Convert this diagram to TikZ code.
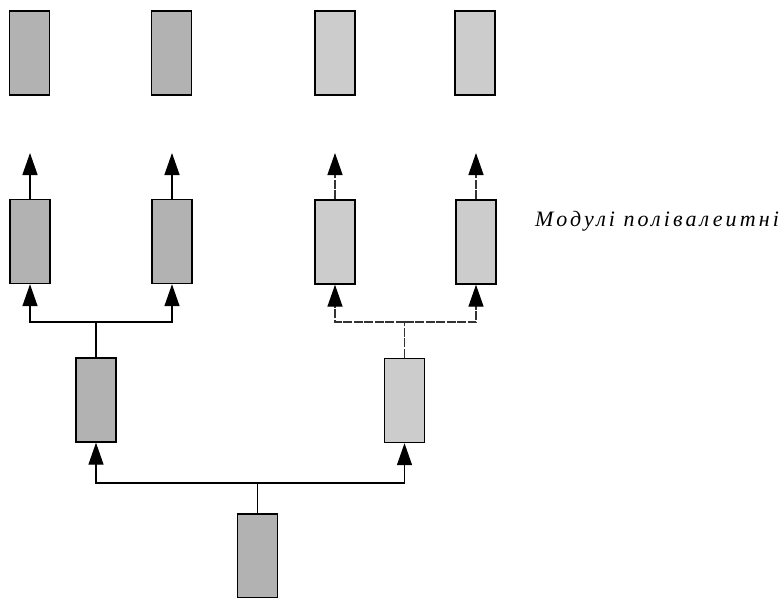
\documentclass[tikz,border=0pt]{standalone}
\usepackage{fontspec}
\setmainfont{Liberation Serif}
\newfontfamily\lblfont[LetterSpace=14]{Liberation Serif}
\usetikzlibrary{arrows.meta}
\tikzset{
  modbox/.style={draw=black, line width=1.4pt, rectangle, inner sep=0pt,
    minimum width=40pt, minimum height=84pt},
  dark/.style={modbox, fill=black!30},
  light/.style={modbox, fill=black!20},
  conn/.style={line width=1.4pt, black},
  dconn/.style={line width=1.4pt, black!80, dash pattern=on 9pt off 1.5pt},
  tip/.style={-{Triangle[length=22pt,width=15pt,color=black,fill=black]}},
}
\begin{document}
\begin{tikzpicture}[x=1pt,y=-1pt]
\useasboundingbox (0,0) rectangle (779,597);
% top row
\node[dark]  (a1) at (29.5,53) {};
\node[dark]  (a2) at (171.5,53) {};
\node[light] (a3) at (335,53) {};
\node[light] (a4) at (475,53) {};
% second row
\node[dark]  (b1) at (30,241.5) {};
\node[dark]  (b2) at (172,241.5) {};
\node[light] (b3) at (335,242) {};
\node[light] (b4) at (476,242) {};
% third row
\node[dark]  (c1) at (96,400) {};
\node[light] (c2) at (404.5,400.5) {};
% bottom
\node[dark]  (d) at (257.5,556) {};
% free arrow ends
\coordinate (t1) at (30,153);
\coordinate (t2) at (172,153);
\coordinate (t3) at (335,153);
\coordinate (t4) at (476,153);
\draw[conn,tip] (b1.north) -- (t1);
\draw[conn,tip] (b2.north) -- (t2);
\draw[dconn,tip] (b3.north) -- (t3);
\draw[dconn,tip] (b4.north) -- (t4);
% left group
\coordinate (j1) at (96,322);
\draw[conn] (c1.north) -- (j1);
\draw[conn,tip] (j1) -| (b1.south);
\draw[conn,tip] (j1) -| (b2.south);
% right group
\coordinate (j2) at (404.5,322);
\draw[dconn] (c2.north) -- (j2);
\draw[dconn,tip] (j2) -| (b3.south);
\draw[dconn,tip] (j2) -| (b4.south);
% bottom group
\coordinate (j3) at (257.5,483);
\draw[conn] (d.north) -- (j3);
\draw[conn,tip] (j3) -| (c1.south);
\draw[conn,tip] (j3) -| (c2.south);
% label
\node[anchor=base west, inner sep=0pt, font={\lblfont\itshape\fontsize{22}{24}\selectfont}] (lbl) at (535,226) {Модулі полівалеитні};
\end{tikzpicture}
\end{document}
